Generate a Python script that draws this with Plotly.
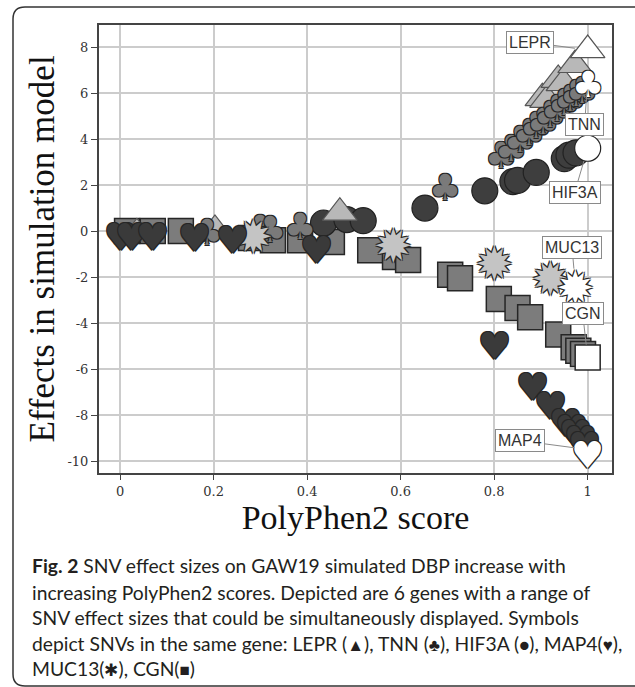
import plotly.graph_objects as go

# ---------------- data ----------------
lepr_x = [0.036, 0.203, 0.47, 0.903, 0.913, 0.937, 0.948, 0.973, 1.0]
lepr_y = [-0.1, 0.05, 0.8, 5.78, 5.7, 6.57, 6.43, 7.22, 7.87]

tnn_x = [0.186, 0.30, 0.32, 0.385, 0.695, 0.815, 0.835, 0.855, 0.875, 0.89,
         0.905, 0.92, 0.935, 0.95, 0.962, 0.975, 0.988, 1.0]
tnn_y = [0.17, 0.35, 0.3, 0.4, 2.1, 3.5, 3.8, 4.2, 4.5, 4.8,
         5.0, 5.3, 5.55, 5.8, 6.0, 6.2, 6.35, 6.6]

hif3a_x = [0.435, 0.485, 0.52, 0.652, 0.78, 0.84, 0.85, 0.89, 0.95, 0.96, 0.975, 1.0]
hif3a_y = [0.35, 0.5, 0.45, 1.0, 1.75, 2.15, 2.2, 2.55, 3.15, 3.3, 3.4, 3.6]

map4_x = [0.0, 0.025, 0.07, 0.16, 0.24, 0.42, 0.80, 0.883, 0.92, 0.953,
          0.965, 0.975, 0.985, 0.993, 1.0]
map4_y = [0.0, 0.0, 0.0, -0.05, -0.15, -0.6, -4.75, -6.55, -7.35, -8.1,
          -8.35, -8.6, -8.85, -9.1, -9.5]

muc13_x = [0.285, 0.585, 0.80, 0.92, 0.973]
muc13_y = [0.0, -0.4, -1.15, -1.83, -2.2]

cgn_x = [0.015, 0.07, 0.13, 0.28, 0.327, 0.385, 0.453, 0.535, 0.588, 0.616,
         0.706, 0.727, 0.81, 0.85, 0.877, 0.937, 0.97, 0.98, 0.99, 1.0]
cgn_y = [0.0, 0.0, 0.0, -0.3, -0.4, -0.4, -0.48, -0.83, -1.13, -1.26,
         -1.9, -2.05, -2.95, -3.35, -3.75, -4.5, -5.05, -5.2, -5.35, -5.5]

x_ticks = [0, 0.2, 0.4, 0.6, 0.8, 1]
x_tick_labels = ["0", "0.2", "0.4", "0.6", "0.8", "1"]
y_ticks = [8, 6, 4, 2, 0, -2, -4, -6, -8, -10]
y_tick_labels = ["8", "6", "4", "2", "0", "-2", "-4", "-6", "-8", "-10"]

gene_labels = ["LEPR", "TNN", "HIF3A", "MAP4", "MUC13", "CGN"]


def sym(s):
    return f'<span style="font-size:17px">{s}</span>'


caption_lines = [
    "<b>Fig. 2</b> SNV effect sizes on GAW19 simulated DBP increase with",
    "increasing PolyPhen2 scores. Depicted are 6 genes with a range of",
    "SNV effect sizes that could be simultaneously displayed. Symbols",
    f"depict SNVs in the same gene: LEPR ({sym('▲')}), TNN ({sym('♣')}), "
    f"HIF3A ({sym('●')}), MAP4({sym('♥')}),",
    f"MUC13({sym('✱')}), CGN({sym('■')})",
]

# ---------------- layout geometry ----------------
W, H = 635, 687
ML, MR, MT, MB = 99, 23, 25, 214
PW, PH = W - ML - MR, H - MT - MB


def paper_x(px):
    return (px - ML) / PW


def paper_y(py):
    return (H - MB - py) / PH


def shade(n, base):
    return [base] * (n - 1) + ["#ffffff"]


OUTLINE = "-1px -1px 0 #262626, 1px -1px 0 #262626, -1px 1px 0 #262626, 1px 1px 0 #262626"

fig = go.Figure()

# CGN squares
fig.add_trace(go.Scatter(
    x=cgn_x, y=cgn_y, mode="markers", name="CGN", hoverinfo="skip",
    marker=dict(symbol="square", size=25, color=shade(len(cgn_x), "#7c7c7c"),
                line=dict(color="#262626", width=1.5), opacity=1)))

# HIF3A circles
fig.add_trace(go.Scatter(
    x=hif3a_x, y=hif3a_y, mode="markers", name="HIF3A", hoverinfo="skip",
    marker=dict(symbol="circle", size=26, color=shade(len(hif3a_x), "#3e3e3e"),
                line=dict(color="#222222", width=1.2), opacity=1)))

# LEPR triangles
fig.add_trace(go.Scatter(
    x=lepr_x, y=lepr_y, mode="markers", name="LEPR", hoverinfo="skip",
    marker=dict(symbol="triangle-up", size=30, color=shade(len(lepr_x), "#b8b8b8"),
                line=dict(color="#555555", width=1.2), opacity=1)))

annotations = []


def glyph_points(xs, ys, glyph, size, base, yshift):
    cols = shade(len(xs), base)
    for gx, gy, c in zip(xs, ys, cols):
        annotations.append(dict(
            x=gx, y=gy, xref="x", yref="y", text=glyph, showarrow=False,
            xanchor="center", yanchor="middle", yshift=yshift,
            font=dict(family="DejaVu Sans", size=size, color=c, shadow=OUTLINE)))


# TNN clubs, MUC13 stars, MAP4 hearts (glyph symbols)
glyph_points(tnn_x, tnn_y, "♣", 36, "#7a7a7a", -5)
glyph_points(muc13_x, muc13_y, "✹", 46, "#c4c4c4", -6)
glyph_points(map4_x, map4_y, "♥", 37, "#3a3a3a", -6)

# gene labels pointing to the last (white) point of each gene
series_last = {
    "LEPR": (lepr_x[-1], lepr_y[-1], -58, -8),
    "TNN": (tnn_x[-1], tnn_y[-1], -3, 45),
    "HIF3A": (hif3a_x[-1], hif3a_y[-1], -13, 44),
    "MAP4": (map4_x[-1], map4_y[-1], -68, -9),
    "MUC13": (muc13_x[-1], muc13_y[-1], -3, -34),
    "CGN": (cgn_x[-1], cgn_y[-1], -5, -44),
}
for g in gene_labels:
    gx, gy, ax, ay = series_last[g]
    annotations.append(dict(
        x=gx, y=gy, xref="x", yref="y", text=g, showarrow=True,
        ax=ax, ay=ay, arrowhead=0, arrowwidth=1, arrowcolor="#8a8a8a",
        standoff=13, bgcolor="#ffffff", bordercolor="#8a8a8a", borderwidth=1,
        borderpad=2, font=dict(family="Liberation Sans", size=16, color="#333333")))

# caption
cap_y = [565, 592, 617, 643, 668]
for line, py in zip(caption_lines, cap_y):
    annotations.append(dict(
        x=paper_x(30), y=paper_y(py), xref="paper", yref="paper",
        xanchor="left", yanchor="middle", showarrow=False, text=line,
        font=dict(family="Lato", size=19.3, color="#231f20")))

# outer rounded frame
fx0, fx1 = paper_x(13), paper_x(640)
fxc = paper_x(25)
fy0, fy1 = paper_y(7), paper_y(686)
fyc0, fyc1 = paper_y(19), paper_y(674)
frame_path = (f"M {fx1},{fy0} L {fxc},{fy0} Q {fx0},{fy0} {fx0},{fyc0} "
              f"L {fx0},{fyc1} Q {fx0},{fy1} {fxc},{fy1} L {fx1},{fy1}")

fig.update_layout(
    width=W, height=H,
    margin=dict(l=ML, r=MR, t=MT, b=MB),
    paper_bgcolor="white", plot_bgcolor="white",
    showlegend=False,
    annotations=annotations,
    shapes=[dict(type="path", path=frame_path, xref="paper", yref="paper",
                 line=dict(color="#333333", width=1.5), layer="above")],
    xaxis=dict(
        range=[-0.045, 1.052], tickvals=x_ticks, ticktext=x_tick_labels,
        showgrid=True, gridcolor="#cccccc", gridwidth=1.5, zeroline=False,
        showline=True, linecolor="#444444", linewidth=2, mirror=True,
        ticks="outside", ticklen=5, tickcolor="#444444",
        tickfont=dict(family="DejaVu Serif", size=13, color="#333333"),
        title=dict(text="PolyPhen2 score", standoff=4,
                   font=dict(family="Liberation Serif", size=34, color="#111111"))),
    yaxis=dict(
        range=[-10.52, 8.96], tickvals=y_ticks, ticktext=y_tick_labels,
        showgrid=True, gridcolor="#cccccc", gridwidth=1.5, zeroline=False,
        showline=True, linecolor="#444444", linewidth=2, mirror=True,
        ticks="outside", ticklen=6, tickcolor="#444444",
        tickfont=dict(family="DejaVu Serif", size=13, color="#333333"),
        title=dict(text="Effects in simulation model", standoff=2,
                   font=dict(family="Liberation Serif", size=35, color="#111111"))),
)

fig.write_html("out.html", config={"displayModeBar": False},
               post_script="document.body.style.margin='0';document.body.style.overflow='hidden';")
